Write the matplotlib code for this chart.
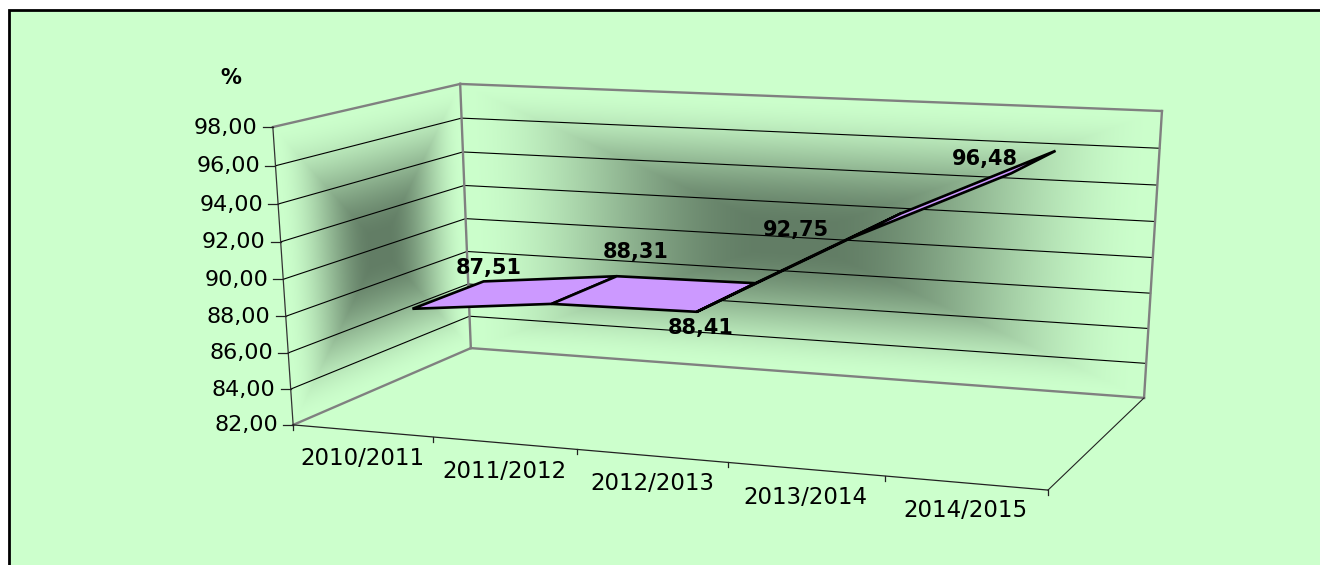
import numpy as np
import matplotlib
matplotlib.use("Agg")
import matplotlib.pyplot as plt
from matplotlib.patches import Polygon, Rectangle

categories = ["2010/2011", "2011/2012", "2012/2013", "2013/2014", "2014/2015"]
values = [87.51, 88.31, 88.41, 92.75, 96.48]
value_labels = ["87,51", "88,31", "88,41", "92,75", "96,48"]
y_ticks = [82, 84, 86, 88, 90, 92, 94, 96, 98]
y_tick_labels = ["82,00", "84,00", "86,00", "88,00", "90,00", "92,00", "94,00", "96,00", "98,00"]

W, H = 1320, 565
BG = np.array([0xCC, 0xFF, 0xCC]) / 255
DARK = np.array([0x62, 0x7D, 0x65]) / 255
RIBBON = "#CC99FF"
WALL_EDGE = "#808080"

# box corners (category pos, value, depth) seen at these pixel positions
box_3d = [(0, 82, 0), (0, 98, 0), (0, 98, 1), (0, 82, 1), (5, 98, 1), (5, 82, 1), (5, 82, 0)]
box_px = [(293, 425), (273, 127), (460, 84), (471, 348), (1162, 111), (1144, 398), (1048, 490)]


def fit_camera(pts3, pts2):
    rows = []
    for (x, y, z), (u, v) in zip(pts3, pts2):
        p = [x, (y - 82) / 16, z, 1]
        rows.append(p + [0, 0, 0, 0] + [-u * c for c in p])
        rows.append([0, 0, 0, 0] + p + [-v * c for c in p])
    return np.linalg.svd(np.array(rows))[2][-1].reshape(3, 4)


CAM = fit_camera(box_3d, box_px)


def proj(x, y, z):
    q = CAM @ np.array([x, (y - 82) / 16, z, 1.0])
    return q[0] / q[2], q[1] / q[2]


def wall_image(ax, to_plane):
    # rectangular "from centre" gradient, computed in wall coordinates
    hom = np.linalg.inv(to_plane)
    xx, yy = np.meshgrid(np.arange(W) + 0.5, np.arange(H) + 0.5)
    d = hom[2, 0] * xx + hom[2, 1] * yy + hom[2, 2]
    a = (hom[0, 0] * xx + hom[0, 1] * yy + hom[0, 2]) / d
    b = (hom[1, 0] * xx + hom[1, 1] * yy + hom[1, 2]) / d
    t = 1 - np.maximum(np.abs(2 * a - 1), np.abs(2 * b - 1))
    t = np.clip(t / 0.92, 0, 1)
    t = t * t * (3 - 2 * t)
    img = np.zeros((H, W, 4))
    for c in range(3):
        img[..., c] = BG[c] + (DARK[c] - BG[c]) * t
    img[..., 3] = ((a >= 0) & (a <= 1) & (b >= 0) & (b <= 1)).astype(float)
    ax.imshow(img, extent=(0, W, H, 0), interpolation="nearest", zorder=1, aspect="auto")


fig = plt.figure(figsize=(W / 100, H / 100), dpi=100, facecolor="white")
ax = fig.add_axes([0, 0, 1, 1])
ax.axis("off")
ax.add_patch(Rectangle((9, 10), W + 20, H + 20, facecolor=BG, edgecolor="black", linewidth=2, zorder=0))

# walls: columns are the plane's a axis, b axis, origin
left_plane = CAM[:, [2, 1, 3]]
back_plane = np.column_stack([CAM[:, 0] * 5, CAM[:, 1], CAM[:, 2] + CAM[:, 3]])
wall_image(ax, left_plane)
wall_image(ax, back_plane)


def seg(a, b, **kw):
    pa, pb = proj(*a), proj(*b)
    ax.plot([pa[0], pb[0]], [pa[1], pb[1]], solid_capstyle="projecting", **kw)


# gridlines
for v in y_ticks[1:-1]:
    seg((0, v, 0), (0, v, 1), color="black", lw=0.8, zorder=2)
    seg((0, v, 1), (5, v, 1), color="black", lw=0.8, zorder=2)

# wall outline
for a, b in [((0, 98, 0), (0, 98, 1)), ((0, 98, 1), (5, 98, 1)), ((5, 98, 1), (5, 82, 1)),
             ((0, 98, 1), (0, 82, 1)), ((0, 82, 1), (5, 82, 1)), ((0, 82, 0), (0, 82, 1))]:
    seg(a, b, color=WALL_EDGE, lw=1.7, zorder=3)

# front axes
seg((0, 82, 0), (0, 98, 0), color="#333333", lw=0.9, zorder=4)
seg((0, 82, 0), (5, 82, 0), color="#222222", lw=0.9, zorder=4)
seg((5, 82, 0), (5, 82, 1), color="#222222", lw=0.8, zorder=4)

# value axis ticks and labels
for v, lab in zip(y_ticks, y_tick_labels):
    px, py = proj(0, v, 0)
    ax.plot([px - 10, px], [py, py], color="#222222", lw=0.9, zorder=4)
    ax.text(px - 15, py + 0.5, lab, ha="right", va="center", fontsize=16, color="black", zorder=6)

# category ticks and labels
for i in range(len(categories) + 1):
    px, py = proj(i, 82, 0)
    ax.plot([px, px], [py, py + 5], color="#222222", lw=0.9, zorder=4)
for i, lab in enumerate(categories):
    px, py = proj(i + 0.5, 82, 0)
    ax.text(px, py + 28, lab, ha="center", va="center", fontsize=16.5, color="black", zorder=6)

ax.text(231, 78, "%", ha="center", va="center", fontsize=15, fontweight="bold", color="black", zorder=6)

# ribbon
z_front, z_back = 0.295, 0.705
for i in range(len(values) - 1):
    quad = [proj(i + 0.5, values[i], z_front), proj(i + 1.5, values[i + 1], z_front),
            proj(i + 1.5, values[i + 1], z_back), proj(i + 0.5, values[i], z_back)]
    ax.add_patch(Polygon(quad, closed=True, facecolor=RIBBON, edgecolor="black", linewidth=1.9,
                         joinstyle="miter", zorder=5))

# data labels, offsets from the ribbon's middle at each category
label_offsets = [(40, -27), (51, -38), (-26, 31), (-80, 4), (-49, -3)]
for i, (lab, off) in enumerate(zip(value_labels, label_offsets)):
    px, py = proj(i + 0.5, values[i], 0.5)
    ax.text(px + off[0], py + off[1], lab, ha="center", va="center", fontsize=15,
            fontweight="bold", color="black", zorder=7)

ax.set_xlim(0, W)
ax.set_ylim(H, 0)
fig.savefig("out.png", dpi=100, facecolor="white")
